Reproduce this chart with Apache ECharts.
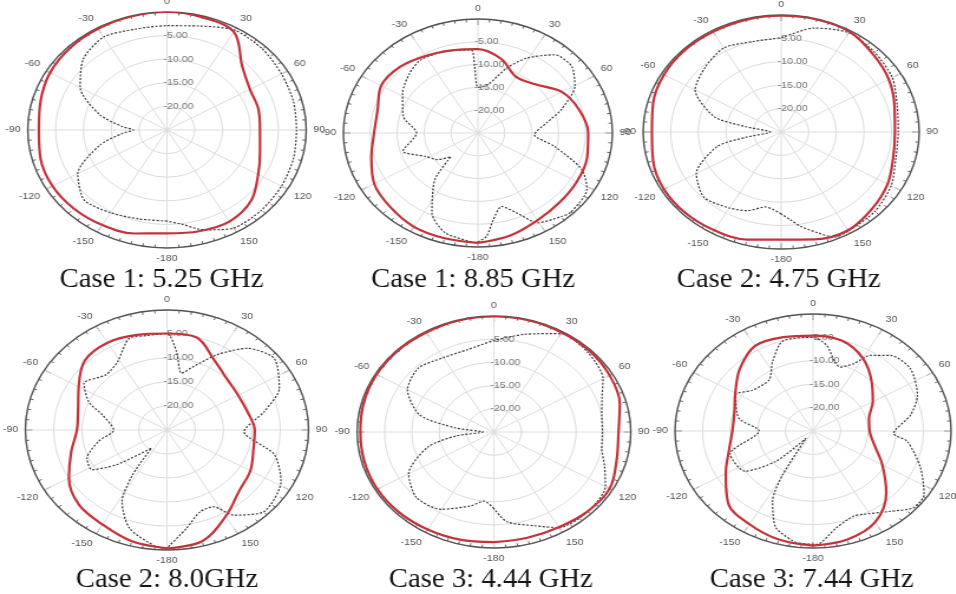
<!DOCTYPE html>
<html>
<head>
<meta charset="utf-8">
<script src="https://cdn.jsdelivr.net/npm/echarts@6/dist/echarts.min.js"></script>
<style>
  html, body { margin: 0; padding: 0; background: #fff; overflow: hidden; }
  #wrap { width: 956px; height: 594px; overflow: hidden; }
  /* radiation plots are drawn as ellipses: the polar canvas is widened horizontally */
  #chart { width: 810px; height: 594px; transform: scaleX(1.18); transform-origin: 0 0; }
</style>
</head>
<body>
<div id="wrap"><div id="chart"></div></div>
<script>
// ---- panel captions ----
const captions = [
  'Case 1: 5.25 GHz', 'Case 1: 8.85 GHz', 'Case 2: 4.75 GHz',
  'Case 2: 8.0GHz', 'Case 3: 4.44 GHz', 'Case 3: 7.44 GHz'
];

// ---- angle ticks (degrees, clockwise from top) ----
const angleTicks = [0, 30, 60, 90, 120, 150, -180, -150, -120, -90, -60, -30];
// ---- radial ticks (dB) ----
const radialTicks = [-20, -15, -10, -5];

// ---- solid (red) patterns, sampled every 15 degrees ----
const redAngles = [-180, -165, -150, -135, -120, -105, -90, -75, -60, -45, -30, -15,
                   0, 15, 30, 45, 60, 75, 90, 105, 120, 135, 150, 165];
const redC1_525 = [-3.1, -2.3, -1.75, -1.4, -1.25, -1.5, -2, -1.5, -0.75, -0.4, -0.25, -0.1,
                   0, -0.3, -1, -5.9, -7.8, -8, -8.3, -7.7, -6.1, -3.7, -2.6, -2.8];
const redC1_885 = [-0.9, -1.1, -1.25, -2, -2.75, -4.5, -5.7, -5.7, -4.25, -4.5, -5.5, -6.25,
                   -6.6, -8.2, -10.8, -9.9, -7, -5.5, -4.5, -4, -3.75, -3.5, -2.9, -1.75];
const redC2_475 = [-2, -1.2, -0.75, -0.5, -0.5, -1, -1.6, -1, -0.5, -0.3, -0.3, -0.2,
                   -0.15, -0.1, -0.25, -1.5, -2.5, -3.75, -4.4, -4, -2.75, -1.75, -0.75, -1.25];
const redC2_80 = [-0.35, -1, -2.25, -3, -5, -7.5, -9.1, -8.75, -7, -4.5, -4, -4.5,
                  -4.9, -5, -8.25, -10, -10.5, -10.3, -9.5, -9.2, -8, -7, -4.25, -1];
const redC3_444 = [-1.25, -1, -0.75, -0.5, -0.4, -0.5, -0.6, -0.4, -0.25, -0.2, -0.25, -0.1,
                   -0.1, -0.1, -0.25, -0.3, -0.6, -1.2, -2.25, -1.8, -0.6, -0.8, -1.3, -1.4];
const redC3_744 = [-0.5, -1, -2, -3.25, -6.75, -9.25, -10.4, -10.25, -8.75, -6.25, -4, -4.25,
                   -4.6, -5, -7, -10, -12.5, -14.5, -14.75, -13.5, -10.5, -6.25, -2.5, -1];

// ---- dotted (black) patterns ----
const dotAngC1_525 = [-180, -165, -150, -135, -120, -105, -95, -90, -85, -75, -60, -45, -30, -15,
                      0, 15, 30, 45, 60, 75, 90, 105, 120, 135, 150, 160, 165, 172];
const dotC1_525 = [-5.7, -5.5, -4.75, -4, -6.5, -12.5, -17, -19, -17, -12.5, -7, -3.75, -2.25, -2.9,
                   -2.9, -2.2, -0.6, -0.75, -1.25, -1.5, -1.75, -1.5, -1.25, -1, -1, -2.5, -3.25, -4.8];

const dotAngC1_885 = [-179, -164.7, -154, -142, -136, -128, -117.7, -106, -90, -75, -58, -44, -33, -18.5,
                      -4, -2.4, 0, 10, 20.7, 29, 39.7, 50, 60.3, 71.7, 80, 92, 101.6, 112.5, 121.5,
                      135, 139.7, 150.7, 157.5, 164.6, 171.5, 176];
const dotC1_885 = [-0.9, -2.25, -5.5, -12, -17.75, -15.5, -14, -10.5, -13.6, -10.6, -8.5, -6.75, -5.75, -6.1,
                   -6.75, -10.4, -15, -14.2, -9.75, -6.2, -2.7, -2.25, -4.25, -8.7, -12, -14.5, -10.5, -4.1, -1.25,
                   -0.5, -1, -2.4, -6, -8.3, -5.75, -2.25];

const dotAngC2_475 = [-180, -170, -160, -150, -135, -120, -105, -100, -90, -80, -75, -60, -45, -30, -15,
                      0, 15, 30, 45, 60, 75, 90, 105, 120, 135, 150, 157, 163, 170, 175];
const dotC2_475 = [-7.5, -8.75, -7.1, -6.25, -5.25, -7.25, -13, -18.5, -23, -18.5, -12.5, -7, -5.5, -4.25, -5,
                   -4.8, -2, -0.5, -1, -1.75, -3.25, -3.8, -3.5, -2, -1, -0.6, -0.6, -2.5, -4.5, -6.2];

const dotAngC2_80 = [-180, -175.5, -162, -152, -147, -144, -129, -122, -112.7, -101, -90, -74.7, -67, -56.5,
                     -43, -31.5, -19.3, -10.6, 0, 5.9, 12.2, 19.4, 29.4, 39.8, 51.7, 66.4, 77.4, 91.5,
                     105, 118, 134.7, 146.5, 152.7, 161, 170.4];
const dotC2_80 = [-0.4, -0.6, -3.5, -8.1, -13.8, -20.3, -13.5, -9.4, -9.7, -12.7, -15.6, -13.2, -10, -7.4,
                  -9.25, -8.3, -4.75, -5, -4.9, -8.6, -12.9, -11, -7, -2.85, -0.9, -3.35, -7.4, -11.4,
                  -5.4, -2.2, -0.85, -3.75, -7, -7, -4.25];

const dotAngC3_444 = [-180, -173, -165, -150, -135, -120, -105, -97, -90, -83, -75, -60, -45, -30, -15,
                      0, 15, 30, 45, 60, 70, 80, 90, 100, 110, 120, 135, 150, 160, 173];
const dotC3_444 = [-8.5, -10, -8.5, -5.75, -5, -7, -12.5, -18, -23, -18, -11, -6.75, -5.5, -6.5, -6.6,
                   -5.3, -3.2, -0.5, -0.75, -2, -4, -5, -5.2, -5, -3.5, -1.5, -0.75, -1.2, -3.5, -5.5];

const dotAngC3_744 = [-172.7, -162, -154, -149.5, -141, -134, -125, -108, -90, -78.6, -61, -51.5, -36,
                      -26.4, -15.9, 0, 7.6, 15, 19.6, 27, 32.7, 41, 53, 68, 79, 92, 97.5, 112, 124,
                      132, 141, 152.9, 158, 168.4, 178.6];
const dotC3_744 = [-0.9, -3.25, -8.3, -14.2, -23, -15.7, -10, -9.2, -15.25, -11.3, -9, -11, -11.5,
                   -8.5, -5, -5, -6.5, -9.75, -10.5, -8.9, -5.8, -3.6, -2.9, -4.6, -7, -10.4, -7.75, -4, -0.75,
                   -0.5, -2.9, -5, -5.4, -3.9, -0.75];

const panels = [
  { redAng: redAngles, red: redC1_525, dotAng: dotAngC1_525, dot: dotC1_525 },
  { redAng: redAngles, red: redC1_885, dotAng: dotAngC1_885, dot: dotC1_885 },
  { redAng: redAngles, red: redC2_475, dotAng: dotAngC2_475, dot: dotC2_475 },
  { redAng: redAngles, red: redC2_80,  dotAng: dotAngC2_80,  dot: dotC2_80 },
  { redAng: redAngles, red: redC3_444, dotAng: dotAngC3_444, dot: dotC3_444 },
  { redAng: redAngles, red: redC3_744, dotAng: dotAngC3_744, dot: dotC3_744 }
];

// ---- layout (canvas units, before the horizontal widening) ----
const centers = [[141.5, 130], [405, 133], [662, 132], [141.5, 430], [418.6, 432], [689, 431]];
const radii = [118, 114, 117, 120, 116, 117];
const captionPos = [[137, 280], [401, 280], [660, 280], [141.5, 580], [416, 580], [688, 580]];

// angle in degrees (-180..180, clockwise from top) -> angle-axis value (0..360)
const wrap360 = a => (a + 360) % 360;
// closed curve as [radius(dB), angle] pairs
function curve(angs, vals) {
  const pts = angs.map((a, k) => [vals[k], wrap360(a)]);
  pts.push(pts[0].slice());
  return pts;
}
const angleLabel = v => {
  if (v >= 360) return '';
  const a = v >= 180 ? v - 360 : v;
  return angleTicks.indexOf(a) >= 0 ? String(a) : '';
};
const radialLabel = v => radialTicks.indexOf(v) >= 0 ? v.toFixed(2) : '';

const polar = [], angleAxis = [], radiusAxis = [], series = [], graphic = [];
panels.forEach((p, i) => {
  polar.push({ center: centers[i], radius: radii[i] });
  angleAxis.push({
    polarIndex: i, type: 'value', min: 0, max: 360, interval: 30,
    startAngle: 90, clockwise: true,
    axisLine: { show: true, lineStyle: { color: '#555', width: 1.4 } },
    axisTick: { show: true, inside: true, length: 6, lineStyle: { color: '#555', width: 1 } },
    minorTick: { show: true, splitNumber: 6, length: 3, lineStyle: { color: '#666', width: 1 } },
    splitLine: { show: true, lineStyle: { color: '#dedede', width: 1 } },
    axisLabel: { formatter: angleLabel, color: '#555', fontSize: 9, margin: 6, fontFamily: 'Liberation Sans' }
  });
  radiusAxis.push({
    polarIndex: i, type: 'value', min: -25, max: 0, interval: 5,
    axisLine: { show: false }, axisTick: { show: false },
    splitLine: { show: true, lineStyle: { color: '#dcdcdc', width: 1 } },
    axisLabel: {
      formatter: radialLabel, color: '#777', fontSize: 9, fontFamily: 'Liberation Sans',
      align: 'left', margin: 3
    }
  });
  series.push({
    type: 'line', coordinateSystem: 'polar', polarIndex: i,
    data: curve(p.dotAng, p.dot), showSymbol: false, smooth: 0.25,
    lineStyle: { color: '#3a3a3a', width: 1.2, type: [2, 1.5] }, z: 3
  });
  series.push({
    type: 'line', coordinateSystem: 'polar', polarIndex: i,
    data: curve(p.redAng, p.red), showSymbol: false, smooth: 0.35,
    lineStyle: { color: '#c4323a', width: 2.2 }, z: 4
  });
  graphic.push({
    type: 'text', x: captionPos[i][0], y: captionPos[i][1], scaleX: 0.9,
    style: {
      text: captions[i], fill: '#151515', font: '27px "Liberation Serif", serif',
      align: 'center', verticalAlign: 'middle', textAlign: 'center', textVerticalAlign: 'middle'
    }
  });
});

const chart = echarts.init(document.getElementById('chart'), null, { renderer: 'canvas' });
chart.setOption({
  animation: false,
  backgroundColor: '#fff',
  polar, angleAxis, radiusAxis, series, graphic
});
</script>
</body>
</html>
